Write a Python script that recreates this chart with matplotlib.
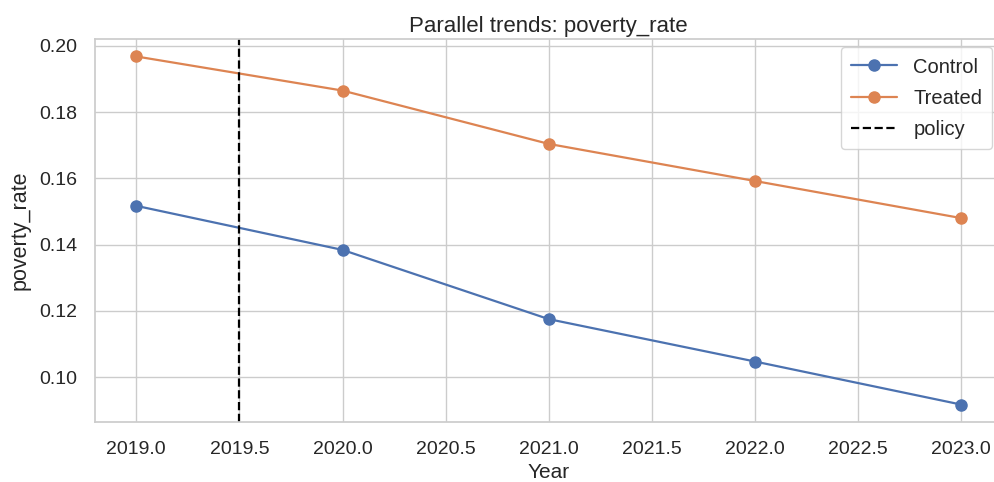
import matplotlib
matplotlib.use("Agg")
import matplotlib.pyplot as plt
import seaborn as sns

years = [2019, 2020, 2021, 2022, 2023]
control = [0.1517, 0.1384, 0.1175, 0.1047, 0.0917]
treated = [0.1968, 0.1865, 0.1704, 0.1592, 0.1480]
policy_year = 2019.5

sns.set_theme(style="whitegrid")
plt.rcParams['font.family'] = ['Liberation Sans', 'DejaVu Sans']

fig = plt.figure(figsize=(9.95, 4.82), dpi=100)
ax = fig.add_axes([0.0955, 0.1245, 0.912, 0.7945])

ax.plot(years, control, marker="o", color="#4c72b0", label="Control", markersize=8, linewidth=1.6)
ax.plot(years, treated, marker="o", color="#dd8452", label="Treated", markersize=8, linewidth=1.6)
ax.axvline(policy_year, color="black", linestyle="--", linewidth=1.6, label="policy")

ax.set_title("Parallel trends: poverty_rate", fontsize=16, pad=5, color=".15")
ax.set_xlabel("Year", fontsize=15, labelpad=3)
ax.set_ylabel("poverty_rate", fontsize=15.5, labelpad=6)
ax.tick_params(axis="x", labelsize=14, pad=8)
ax.tick_params(axis="y", labelsize=14, pad=7)
ax.legend(loc="upper right", fontsize=14.5, bbox_to_anchor=(0.989, 0.978),
          borderaxespad=0.0, handlelength=2.3, borderpad=0.5, labelspacing=0.6)

fig.savefig("out.png", dpi=100)
